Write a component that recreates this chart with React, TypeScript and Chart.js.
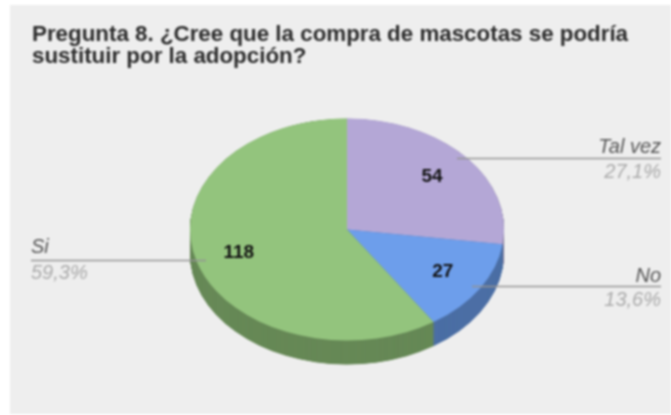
import React, { useEffect, useRef } from "react";
import { Chart, registerables } from "chart.js";

Chart.register(...registerables);

const categories = ["Tal vez", "No", "Si"];
const values = [54, 27, 118];
const percentLabels = ["27,1%", "13,6%", "59,3%"];
const faceColors = ["#B4A7D6", "#6D9EEB", "#93C47D"];
const sideColors = ["#7E7596", "#4C6FA5", "#678957"];
const titleLines = [
  "Pregunta 8. ¿Cree que la compra de mascotas se podría",
  "sustituir por la adopción?",
];

const SQUASH = 111 / 157;
const FACE_CY = 229.5;
const DEPTH = 24;
const LEADERS = [
  { from: 457, to: 661, y: 158.5, align: "right" as const, textX: 661, up: 5.5, down: 19 },
  { from: 472, to: 661, y: 286.5, align: "right" as const, textX: 661, up: 5, down: 19 },
  { from: 206, to: 31, y: 260.5, align: "left" as const, textX: 31, up: 7.5, down: 18 },
];

const pie3d = {
  id: "pie3d",
  beforeDraw(chart: any) {
    const { ctx } = chart;
    ctx.save();
    ctx.fillStyle = "#EEEEEE";
    ctx.fillRect(10, 5, 661, 409);
    ctx.fillStyle = "#2B2B2B";
    ctx.font = "bold 22.35px 'Liberation Sans'";
    ctx.textAlign = "left";
    ctx.textBaseline = "alphabetic";
    titleLines.forEach((line, i) => ctx.fillText(line, 32, 41 + i * 21.5));
    ctx.restore();
  },
  beforeDatasetsDraw(chart: any) {
    const { ctx } = chart;
    const arcs = chart.getDatasetMeta(0).data;
    const cy0 = arcs[0].y;
    ctx.save();
    ctx.translate(0, FACE_CY);
    ctx.scale(1, SQUASH);
    ctx.translate(0, -cy0);
    for (let d = DEPTH; d > 0; d -= 0.25) {
      arcs.forEach((arc: any, i: number) => {
        ctx.beginPath();
        ctx.moveTo(arc.x, arc.y + d / SQUASH);
        ctx.arc(arc.x, arc.y + d / SQUASH, arc.outerRadius, arc.startAngle, arc.endAngle);
        ctx.closePath();
        ctx.fillStyle = sideColors[i];
        ctx.fill();
      });
    }
  },
  afterDatasetsDraw(chart: any) {
    const { ctx } = chart;
    ctx.restore();
    const arcs = chart.getDatasetMeta(0).data;
    ctx.save();
    ctx.textBaseline = "alphabetic";
    arcs.forEach((arc: any, i: number) => {
      const mid = (arc.startAngle + arc.endAngle) / 2;
      const x = arc.x + Math.cos(mid) * arc.outerRadius * 0.72;
      const y = FACE_CY + Math.sin(mid) * arc.outerRadius * SQUASH * 0.72;
      ctx.fillStyle = "#111111";
      ctx.font = "bold 19px 'Liberation Sans'";
      ctx.textAlign = "center";
      ctx.fillText(String(values[i]), x, y + 5.5);

      const l = LEADERS[i];
      ctx.strokeStyle = "#939393";
      ctx.lineWidth = 1.5;
      ctx.beginPath();
      ctx.moveTo(l.from, l.y);
      ctx.lineTo(l.to, l.y);
      ctx.stroke();

      ctx.textAlign = l.align;
      ctx.font = "italic 20px 'Liberation Sans'";
      ctx.fillStyle = "#555555";
      ctx.fillText(categories[i], l.textX, l.y - l.up);
      ctx.fillStyle = "#ABABAB";
      ctx.fillText(percentLabels[i], l.textX, l.y + l.down);
    });
    ctx.restore();
  },
};

export default function App() {
  const ref = useRef<HTMLCanvasElement>(null);
  useEffect(() => {
    const chart = new Chart(ref.current!, {
      type: "pie",
      data: {
        labels: categories,
        datasets: [{ data: values, backgroundColor: faceColors, borderWidth: 0, clip: false } as any],
      },
      options: {
        animation: false,
        responsive: false,
        layout: { padding: { left: 190, right: 167, top: 50, bottom: 51 } },
        plugins: { legend: { display: false }, tooltip: { enabled: false }, title: { display: false } },
      },
      plugins: [pie3d],
    });
    return () => chart.destroy();
  }, []);
  return (
    <canvas
      ref={ref}
      width={671}
      height={415}
      style={{ position: "absolute", left: 0, top: 0, width: 671, height: 415, filter: "blur(0.8px)" }}
    />
  );
}
